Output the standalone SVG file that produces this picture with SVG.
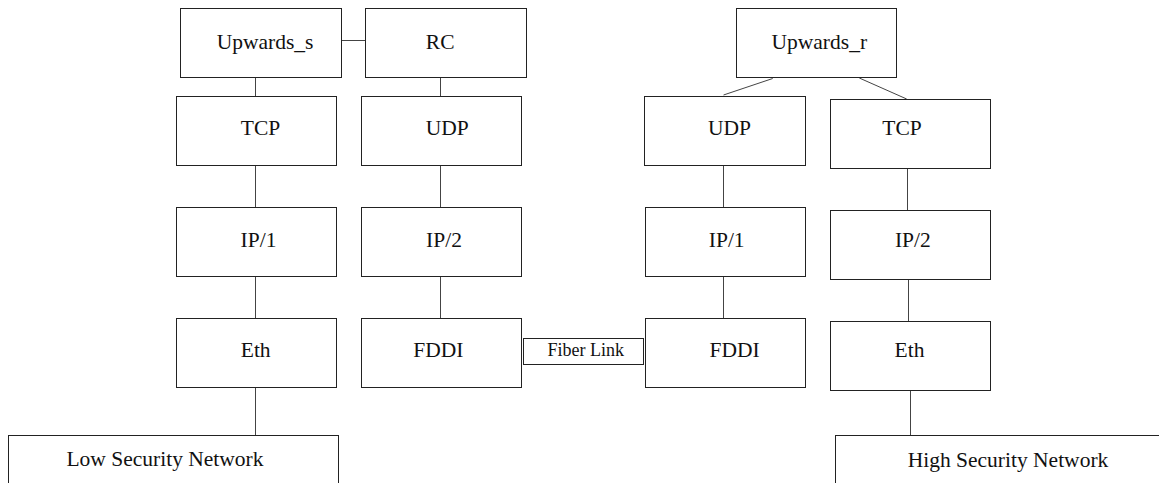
<svg xmlns="http://www.w3.org/2000/svg" width="1159" height="483" viewBox="0 0 1159 483">
  <style>
    .box { fill: #ffffff; stroke: #222222; stroke-width: 1; }
    .lbl { font-family: 'Liberation Serif', 'DejaVu Serif', 'Times New Roman', serif; font-size: 21.5px; fill: #111111; text-anchor: middle; }
    .small { font-size: 18px; }
    .wire { stroke: #444444; stroke-width: 1; fill: none; }
  </style>
  <rect width="1159" height="483" fill="#ffffff"/>

  <!-- connectors between protocol layers -->
  <g id="connectors">
    <line class="wire" x1="342" y1="40.5" x2="365" y2="40.5"/>
    <line class="wire" x1="255.5" y1="78" x2="255.5" y2="96"/>
    <line class="wire" x1="440.5" y1="78" x2="440.5" y2="96"/>
    <line class="wire" x1="772.7" y1="78.5" x2="723.5" y2="95"/>
    <line class="wire" x1="859.3" y1="78" x2="906.7" y2="99"/>
    <line class="wire" x1="255.5" y1="166" x2="255.5" y2="207"/>
    <line class="wire" x1="440.5" y1="166" x2="440.5" y2="207"/>
    <line class="wire" x1="723.5" y1="166" x2="723.5" y2="207"/>
    <line class="wire" x1="907.5" y1="169" x2="907.5" y2="210"/>
    <line class="wire" x1="255.5" y1="277" x2="255.5" y2="318"/>
    <line class="wire" x1="440.5" y1="277" x2="440.5" y2="318"/>
    <line class="wire" x1="723.5" y1="277" x2="723.5" y2="318"/>
    <line class="wire" x1="908.5" y1="280" x2="908.5" y2="321.5"/>
    <line class="wire" x1="255.5" y1="388" x2="255.5" y2="435.5"/>
    <line class="wire" x1="910.5" y1="391" x2="910.5" y2="435.5"/>
  </g>

  <g font-family="Liberation Serif, DejaVu Serif, serif">
  <!-- left stack -->
  <g id="upwards-s">
    <rect class="box" x="180.5" y="8.5" width="161" height="69"/>
    <text class="lbl" x="265" y="49">Upwards_s</text>
  </g>
  <g id="tcp-left">
    <rect class="box" x="176.5" y="96.5" width="160" height="69"/>
    <text class="lbl" x="260.5" y="135">TCP</text>
  </g>
  <g id="ip1-left">
    <rect class="box" x="176.5" y="207.5" width="160" height="69"/>
    <text class="lbl" x="258.5" y="246.5">IP/1</text>
  </g>
  <g id="eth-left">
    <rect class="box" x="176.5" y="318.5" width="160" height="69"/>
    <text class="lbl" x="255.7" y="356.5">Eth</text>
  </g>
  <g id="low-security">
    <rect class="box" x="8.5" y="435.5" width="330" height="70"/>
    <text class="lbl" x="165" y="465.5">Low Security Network</text>
  </g>

  <!-- RC stack -->
  <g id="rc">
    <rect class="box" x="365.5" y="8.5" width="161" height="69"/>
    <text class="lbl" x="440.2" y="48.5">RC</text>
  </g>
  <g id="udp-left">
    <rect class="box" x="361.5" y="96.5" width="160" height="69"/>
    <text class="lbl" x="447.2" y="135">UDP</text>
  </g>
  <g id="ip2-left">
    <rect class="box" x="361.5" y="207.5" width="160" height="69"/>
    <text class="lbl" x="444" y="246.5">IP/2</text>
  </g>
  <g id="fddi-left">
    <rect class="box" x="361.5" y="318.5" width="160" height="69"/>
    <text class="lbl" x="438.3" y="356.5">FDDI</text>
  </g>

  <!-- fiber link between the two FDDI layers -->
  <g id="fiber-link">
    <rect class="box" x="523.5" y="338.5" width="120" height="26"/>
    <text class="lbl small" x="585.8" y="356">Fiber Link</text>
  </g>

  <!-- receiving side -->
  <g id="upwards-r">
    <rect class="box" x="736.5" y="8.5" width="160" height="69"/>
    <text class="lbl" x="819.3" y="49">Upwards_r</text>
  </g>
  <g id="udp-right">
    <rect class="box" x="644.5" y="96.5" width="161" height="69"/>
    <text class="lbl" x="729.5" y="135">UDP</text>
  </g>
  <g id="ip1-right">
    <rect class="box" x="645.5" y="207.5" width="160" height="69"/>
    <text class="lbl" x="726.7" y="246.5">IP/1</text>
  </g>
  <g id="fddi-right">
    <rect class="box" x="645.5" y="318.5" width="160" height="69"/>
    <text class="lbl" x="734.7" y="356.5">FDDI</text>
  </g>
  <g id="tcp-right">
    <rect class="box" x="830.5" y="99.5" width="160" height="69"/>
    <text class="lbl" x="902" y="135">TCP</text>
  </g>
  <g id="ip2-right">
    <rect class="box" x="830.5" y="210.5" width="160" height="69"/>
    <text class="lbl" x="912.8" y="246.5">IP/2</text>
  </g>
  <g id="eth-right">
    <rect class="box" x="830.5" y="321.5" width="160" height="69"/>
    <text class="lbl" x="909.5" y="356.5">Eth</text>
  </g>
  <g id="high-security">
    <rect class="box" x="835.5" y="435.5" width="340" height="70"/>
    <text class="lbl" x="1008" y="467.3">High Security Network</text>
  </g>
  </g>
</svg>
